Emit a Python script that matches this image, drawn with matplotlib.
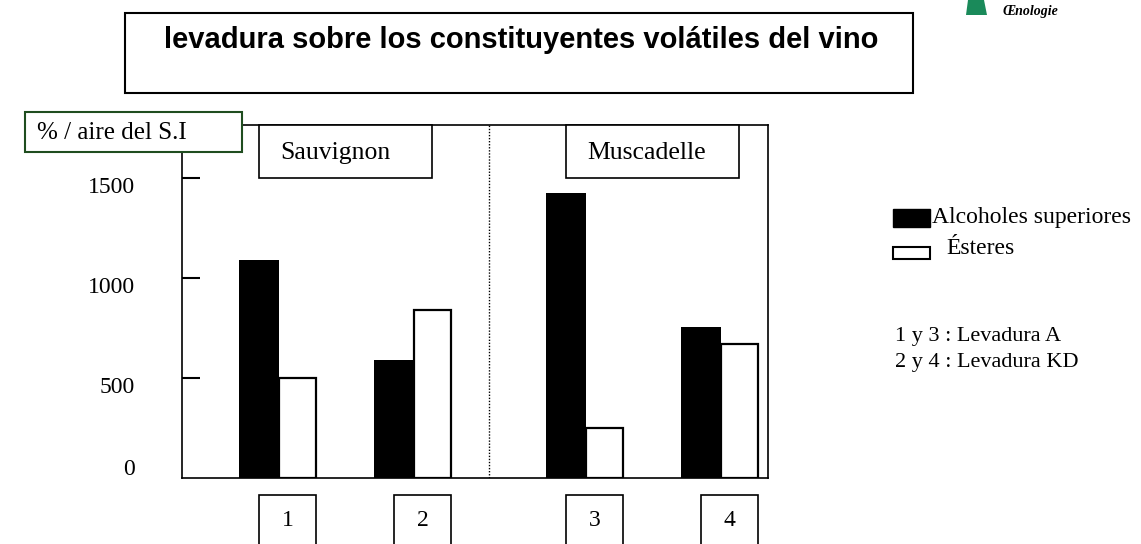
import matplotlib.pyplot as plt
from matplotlib.patches import Rectangle, Polygon
from matplotlib.transforms import blended_transform_factory, offset_copy

# data
muestras = ["1", "2", "3", "4"]
variedades = ["Sauvignon", "Muscadelle"]
alcoholes = [1090, 590, 1425, 755]
esteres = [500, 838, 252, 668]
yticks = [0, 500, 1000, 1500]
notas = ["1 y 3 : Levadura A", "2 y 4 : Levadura KD"]

W, H = 1141, 544
serif = "Liberation Serif"
sans = "Liberation Sans"

fig = plt.figure(figsize=(W / 100, H / 100), dpi=100)


def px(x, y):
    # pixel coords (top-left origin) -> figure fraction
    return x / W, 1 - y / H


def box(x0, y0, x1, y1, lw=1.2, ec="black", fc="white", z=5):
    fig.add_artist(Rectangle(px(x0, y1), (x1 - x0) / W, (y1 - y0) / H,
                             transform=fig.transFigure, lw=lw, ec=ec, fc=fc, zorder=z))


# axes: spine at x=182, bottom 478, top 125, right 768
left, right, top, bottom = 182, 768, 125, 478
ax = fig.add_axes([left / W, 1 - bottom / H, (right - left) / W, (bottom - top) / H])

pos = [0, 1, 2.275, 3.275]
bw_a, bw_e = 0.292, 0.279
ax.bar(pos, alcoholes, width=-bw_a, align="edge", color="black", edgecolor="black", lw=0)
ax.bar(pos, esteres, width=bw_e, align="edge", color="white", edgecolor="black", lw=1.6)

ax.set_xlim(-0.716, 3.625)
ax.set_ylim(0, 1765)
ax.set_xticks([])
ax.set_yticks(yticks[1:])
ax.set_yticklabels([])
for s in ax.spines.values():
    s.set_linewidth(1.2)
ax.tick_params(axis="y", direction="in", length=13, width=1.5)

# tick labels sit a little below their ticks (0 a little above the base line)
ylab_tr = blended_transform_factory(ax.transAxes, ax.transData)
for v in yticks:
    dy = -7 if v else 6
    t = offset_copy(ylab_tr, fig=fig, x=-34, y=dy, units="points")
    ax.text(0, v, str(v), transform=t, ha="right", va="center", fontsize=17,
            fontfamily=serif)

ax.axvline(1.561, color="black", lw=1, ls=(0, (1, 1.2)))

# number boxes under the bars
tr = blended_transform_factory(ax.transData, ax.transAxes)
for p, m in zip(pos, muestras):
    x0 = p - bw_a / 2
    x1 = p + bw_e
    ax.add_patch(Rectangle((x0, -0.19), x1 - x0, 0.142, transform=tr, fc="white",
                           ec="black", lw=1.2, clip_on=False))
    ax.text((x0 + x1) / 2, -0.12, m, transform=tr, ha="center", va="center",
            fontsize=17, fontfamily=serif)

# variety boxes (hang from the top of the frame)
for (x0, x1), v in zip([(259, 432), (566, 739)], variedades):
    box(x0, 125, x1, 178)
    fig.text(*px(x0 + 21, 153), v, ha="left", va="center", fontsize=18.5,
             fontfamily=serif, zorder=6)

# y label box
box(25, 112, 242, 152, lw=1.5, ec="#1f4d1f")
fig.text(*px(37, 133), "% / aire del S.I", ha="left", va="center", fontsize=18,
         fontfamily=serif, zorder=6)

# title box
box(125, 13, 913, 93, lw=1.5)
fig.text(*px(521, 40), "levadura sobre los constituyentes volátiles del vino",
         ha="center", va="center", fontsize=21, fontweight="bold", fontfamily=sans, zorder=6)

# logo fragment
fig.add_artist(Polygon([px(968, 0), px(984, 0), px(987, 15), px(966, 15)],
                       closed=True, transform=fig.transFigure, fc="#1a8a5a", ec="none"))
fig.text(*px(1003, 11), "Œnologie", ha="left", va="center", fontsize=10,
         fontweight="bold", fontstyle="italic", fontfamily=serif)

# legend
box(893, 209, 930, 227, lw=1, fc="black")
box(893, 247, 930, 259, lw=1.5)
fig.text(*px(932, 218), "Alcoholes superiores", ha="left", va="center", fontsize=17,
         fontfamily=serif)
fig.text(*px(946, 249), "Ésteres", ha="left", va="center", fontsize=17, fontfamily=serif)
fig.text(*px(895, 337), notas[0], ha="left", va="center", fontsize=16, fontfamily=serif)
fig.text(*px(895, 362), notas[1], ha="left", va="center", fontsize=16, fontfamily=serif)

fig.savefig("out.png", dpi=100)
